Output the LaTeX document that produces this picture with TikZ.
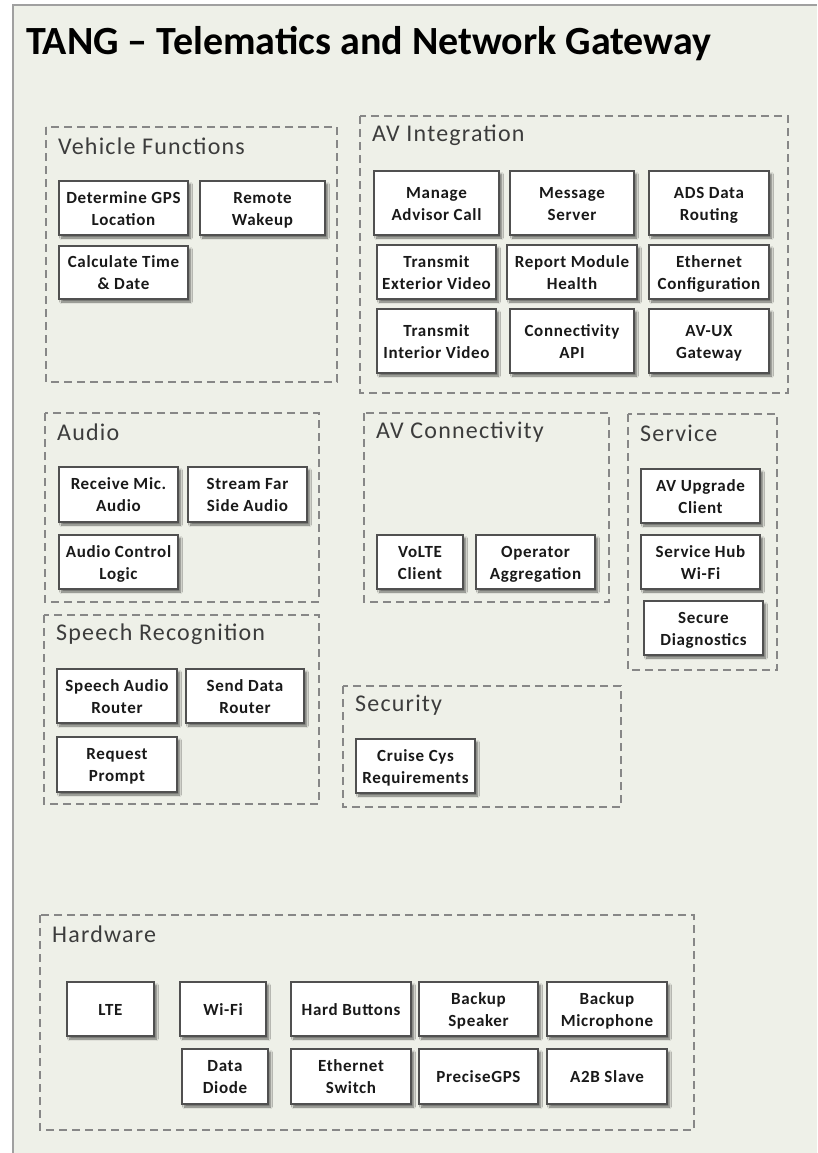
\documentclass[tikz,border=0pt]{standalone}
\usepackage{fontspec}
\setmainfont{Carlito}
\newfontfamily\boxfont[LetterSpace=4]{Carlito}
\newfontfamily\grpfont[LetterSpace=5]{Carlito}
\usetikzlibrary{shadows.blur}
\definecolor{bgc}{RGB}{238,240,232}
\definecolor{framec}{RGB}{160,160,160}
\definecolor{grpc}{RGB}{135,135,135}
\definecolor{gtxt}{RGB}{60,60,60}
\definecolor{boxc}{RGB}{80,80,80}
\newcommand\topstrut{\rule{0pt}{17pt}}
\newcommand\botstrut{\rule[-4.2pt]{0pt}{4.2pt}}
\tikzset{
  grpline/.style={draw=grpc, line width=1.3pt, dash pattern=on 8pt off 5pt},
  gtitle/.style={anchor=west, inner sep=0pt, text=gtxt, font=\grpfont\fontsize{24}{27}\selectfont},
  fbox/.style={draw=boxc, fill=white, line width=1.4pt, inner sep=0pt, align=center,
    font=\boxfont\bfseries\fontsize{17}{22}\selectfont, text=black!90,
    blur shadow={shadow xshift=2.5pt, shadow yshift=-3pt, shadow blur steps=6, shadow opacity=55}},
}
\newcommand\fb[6]{%
  \pgfmathsetmacro\bw{#4-#2}\pgfmathsetmacro\bh{#5-#3}%
  \pgfmathsetmacro\cx{(#2+#4)/2}\pgfmathsetmacro\cy{(#3+#5)/2}%
  \node[fbox, minimum width=\bw pt, minimum height=\bh pt] (#1) at (\cx,\cy) {\topstrut #6\botstrut};}
\newcommand\grp[6]{%
  \draw[grpline] (#2,#3) rectangle (#4,#5);
  \node[gtitle] (#1) at ({#2+12},{#3+19}) {#6};}
\begin{document}
\begin{tikzpicture}[x=1pt,y=-1pt]
\useasboundingbox (0,0) rectangle (817,1153);
\fill[white] (0,0) rectangle (817,1153);
\fill[bgc] (13,5) rectangle (817,1153);
\draw[framec, line width=2pt] (13,1153) -- (13,5) -- (817,5);
\node[anchor=base west, inner sep=0pt, font=\bfseries\fontsize{40}{46}\selectfont] (title) at (26,55) {TANG – Telematics and Network Gateway};

% Vehicle Functions
\grp{gveh}{46}{127}{337}{382}{Vehicle Functions}
\fb{gps}{59}{181}{188}{235}{Determine GPS\\Location}
\fb{wake}{200}{181}{325}{235}{Remote\\Wakeup}
\fb{time}{59}{246}{188}{299}{Calculate Time\\\& Date}

% AV Integration
\grp{gavi}{360}{116}{788}{393}{AV Integration}
\fb{advisor}{374}{171}{499}{235}{Manage\\Advisor Call}
\fb{msg}{510}{171}{634}{235}{Message\\Server}
\fb{ads}{649}{171}{769}{235}{ADS Data\\Routing}
\fb{extvid}{377}{245}{496}{299}{Transmit\\Exterior Video}
\fb{health}{507}{245}{637}{299}{Report Module\\Health}
\fb{ethcfg}{649}{245}{769}{299}{Ethernet\\Configuration}
\fb{intvid}{377}{309}{496}{373}{Transmit\\Interior Video}
\fb{api}{510}{309}{634}{373}{Connectivity\\API}
\fb{avux}{649}{309}{769}{373}{AV-UX\\Gateway}

% Audio
\grp{gaud}{45}{413}{319}{602}{Audio}
\fb{mic}{59}{467}{178}{522}{Receive Mic.\\Audio}
\fb{far}{188}{467}{307}{522}{Stream Far\\Side Audio}
\fb{ctl}{59}{535}{178}{589}{Audio Control\\Logic}

% Speech Recognition
\grp{gsr}{44}{615}{319}{804}{Speech Recognition}
\fb{sar}{57}{669}{177}{723}{Speech Audio\\Router}
\fb{sdr}{186}{669}{304}{723}{Send Data\\Router}
\fb{prompt}{57}{737}{177}{792}{Request\\Prompt}

% AV Connectivity
\grp{gavc}{364}{413}{609}{602}{AV Connectivity}
\fb{volte}{377}{535}{463}{589}{VoLTE\\Client}
\fb{opagg}{476}{535}{595}{589}{Operator\\Aggregation}

% Service
\grp{gsvc}{628}{414}{777}{670}{Service}
\fb{upg}{641}{469}{760}{523}{AV Upgrade\\Client}
\fb{hub}{641}{535}{760}{589}{Service Hub\\Wi-Fi}
\fb{diag}{644}{601}{763}{655}{Secure\\Diagnostics}

% Security
\grp{gsec}{343}{686}{621}{807}{Security}
\fb{cruise}{356}{739}{475}{793}{Cruise Cys\\Requirements}

% Hardware
\grp{ghw}{40}{915}{694}{1130}{Hardware}
\fb{lte}{67}{982}{154}{1036}{LTE}
\fb{wifi}{180}{982}{266}{1036}{Wi-Fi}
\fb{hb}{291}{982}{411}{1036}{Hard Buttons}
\fb{bspk}{419}{982}{538}{1036}{Backup\\Speaker}
\fb{bmic}{547}{982}{667}{1036}{Backup\\Microphone}
\fb{diode}{182}{1049}{268}{1104}{Data\\Diode}
\fb{esw}{291}{1049}{411}{1104}{Ethernet\\Switch}
\fb{pgps}{419}{1049}{538}{1104}{PreciseGPS}
\fb{a2b}{547}{1049}{667}{1104}{A2B Slave}
\end{tikzpicture}
\end{document}
